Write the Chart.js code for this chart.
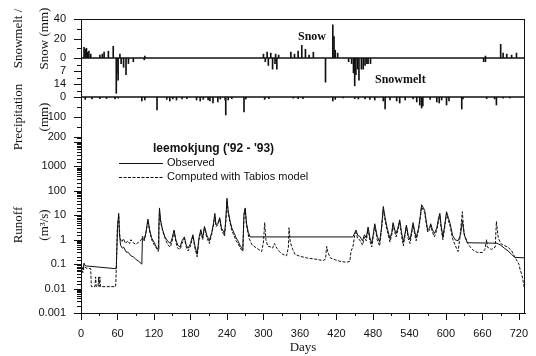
<!DOCTYPE html>
<html>
<head>
<meta charset="utf-8">
<script src="https://cdn.jsdelivr.net/npm/chart.js@4.4.1/dist/chart.umd.min.js"></script>
<style>
  html, body { margin: 0; padding: 0; background: #fff; }
</style>
</head>
<body>
<canvas id="myChart" width="536" height="356"></canvas>
<script>
// snow (up) and snowmelt (down), mm
const snowDay = [5,7,9,11,13,16,31,35,38,45,53,64,105,300,306,312,320,325,345,351,357,363,369,375,382,414,416,418,422,665,690,694,700,708,716];
const snowMm  = [11,9,10,6,7,4,3,4,6,7,12,4,2,4,6,5,4,3,6,4,7,13,9,3,6,34,22,8,5,2,14,5,4,3,5];
const meltDay = [58,59,61,66,70,74,78,86,104,303,308,315,319,322,402,440,445,448,450,452,455,457,461,464,467,470,472,476,662,665];
const meltMm  = [19,8,12,3,5,9,3,2,1,2,4,6,3,6,13,2,3,8,15,9,6,12,6,6,4,3,3,3,2,2];

// precipitation, mm
const precipDay = [7,18,31,42,56,61,100,105,125,141,146,151,157,166,174,190,196,201,209,212,217,225,229,237,238,242,248,268,271,302,309,349,357,365,414,418,431,450,456,467,475,483,497,500,508,519,524,533,546,552,557,560,562,574,585,589,593,601,605,626,628,667,680,683,694,705];
const precipMm  = [12,10,8,8,10,6,20,15,65,12,20,10,15,10,8,15,20,12,15,20,30,25,10,15,90,15,8,75,10,12,8,6,8,8,20,12,5,8,10,10,12,15,20,60,15,20,30,15,10,25,40,55,45,12,25,30,15,40,20,60,10,8,10,40,6,5];

// runoff, m3/s
const obsDay = [0,3,5,7,58,60,62,63,65,68,70,74,78,82,86,90,95,100,101,104,107,110,113,116,120,124,127,128,129,131,134,138,143,147,150,153,156,159,163,166,170,173,176,180,184,187,191,194,197,200,203,207,211,215,218,220,222,225,228,231,236,238,240,242,245,248,252,255,258,262,266,268,270,272,275,278,447,450,452,455,458,463,466,469,472,475,478,481,483,487,491,494,497,500,503,508,511,513,516,518,521,524,527,530,533,535,538,541,544,546,549,551,555,558,560,563,565,568,570,573,575,578,581,585,588,590,592,595,598,601,604,607,611,615,620,624,627,630,635,684,690,696,702,708,713,730];
const obsQ = [0.09,0.06,0.11,0.085,0.065,3,12,2,0.6,0.45,0.5,0.32,0.3,0.22,0.2,0.16,0.13,0.1,1.2,1.0,2,7,2.5,1.2,0.8,0.5,0.4,3,20,6,2.6,1.3,0.85,0.7,1.2,2.5,1,0.6,0.5,0.9,1.3,0.6,0.45,0.7,1.6,0.6,0.25,1.2,2.6,1.2,3.5,1.5,0.9,2,5,12,4,4.5,8,3,1.8,6,50,15,6,3,1.8,1.2,0.9,0.55,0.4,12,20,5,2,1.3,1.3,1.9,2.5,1.5,1.4,0.9,1.6,1.2,3.3,1.2,0.7,2,4.5,1.4,0.8,3,23,8,3.3,1.1,2,5,2.5,1.8,3,6.5,2,0.8,2,4,1.5,1,2.5,5,2,1.2,3,10,27,20,16,5,2.5,3,4.5,2.5,1.8,3,8,12,4,1.3,4,14,8,4.5,1.5,1.0,0.9,1.6,6,1.6,0.75,0.72,0.6,0.45,0.35,0.25,0.19,0.18];
const simDay = [0,3,5,8,16,17,23,24,25,28,29,30,31,32,57,58,60,62,64,67,70,73,77,80,82,86,90,95,99,101,104,107,110,113,117,120,124,127,128,129,131,135,139,143,147,150,153,156,159,163,166,170,173,176,180,184,187,191,194,197,200,203,207,211,215,218,220,222,225,228,231,236,238,240,242,245,248,252,255,258,262,266,268,270,272,276,281,289,297,300,302,304,307,312,315,318,322,326,332,338,341,342,344,348,352,360,371,385,398,402,404,406,410,418,426,437,442,444,447,450,452,455,458,463,466,469,472,475,478,481,483,487,491,494,497,500,503,508,511,513,516,518,521,524,527,530,533,535,538,541,544,546,549,551,555,558,560,563,565,568,570,573,575,578,581,585,588,590,592,595,598,601,604,607,611,615,620,623,627,629,631,636,641,646,652,660,664,667,668,675,681,683,686,690,694,702,708,713,716,720,722,725,727,729];
const simQ = [0.08,0.045,0.08,0.07,0.065,0.012,0.012,0.03,0.012,0.012,0.03,0.012,0.03,0.012,0.012,0.06,4,10,1.2,0.8,1.1,0.7,0.9,0.7,1,0.75,0.65,0.8,1,1.4,0.9,2.2,6,2,0.9,0.65,0.45,0.33,2,15,5,2,1,0.6,0.5,0.9,2.2,0.8,0.45,0.4,0.7,1.1,0.5,0.35,0.55,1.4,0.5,0.2,1,2.2,1,3,1.2,0.7,1.7,4,10,3.5,4,7,2.5,1.4,5,40,12,5,2.4,1.4,0.9,0.7,0.45,0.33,10,18,4,1.2,0.62,0.45,0.33,0.8,5,1,0.55,0.5,0.45,0.7,0.45,0.33,0.25,0.22,0.5,3.1,0.8,0.4,0.25,0.21,0.18,0.16,0.14,0.16,0.53,0.3,0.18,0.15,0.13,0.12,0.13,0.35,0.5,1.5,2,1.1,1,0.6,1.3,0.9,2.8,0.9,0.5,1.6,3.8,1,0.55,2.4,18,6,2.6,0.8,1.6,4,2,1.3,2.4,5.5,1.5,0.55,1.6,3.5,1.1,0.7,2,4,1.5,0.9,2.5,8,22,16,13,4,2,2.5,3.8,2,1.3,2.5,6,10,3,1,3.2,12,6,3.5,1.1,0.6,0.33,1.2,14,3,1.4,0.7,0.47,0.35,0.3,0.3,0.4,1.0,0.5,0.4,0.5,5.6,1.2,0.7,0.6,0.5,0.35,0.2,0.15,0.1,0.06,0.035,0.02,0.01];

// tick labels
const snowTicks = [0, 20, 40];
const meltTicks = [7, 14];
const precipTicks = [0, 100, 200];
const runoffTicks = ['0.001', '0.01', '0.1', '1', '10', '100', '1000'];

const ink = '#111';
const sans = '"Liberation Sans", Arial, sans-serif';
const serif = '"Liberation Serif", "Times New Roman", serif';

function pts(xs, ys) {
    return xs.map((d, i) => ({ x: d, y: ys[i] }));
}
function isDecade(v) {
    const l = Math.log10(v);
    return Math.abs(l - Math.round(l)) < 1e-6;
}
// fixed box sizes so the plot area lands where the original has it
function fitY(scale) {
    scale.width = 81;
    scale.paddingTop = 0;
    scale.paddingBottom = 0;
}
function fitX(scale) {
    scale.height = 43;
    scale.paddingLeft = 0;
    scale.paddingRight = 0;
}

// tick marks, frame lines, legend and notes
const decorPlugin = {
    id: 'decor',
    afterDraw(chart) {
        const ctx = chart.ctx;
        const a = chart.chartArea;
        const s = chart.scales;
        ctx.save();
        ctx.strokeStyle = ink;
        ctx.lineWidth = 1;

        // frame
        ctx.beginPath();
        ctx.moveTo(a.left, a.top + 0.5);
        ctx.lineTo(a.right, a.top + 0.5);
        ctx.moveTo(a.right - 0.5, a.top);
        ctx.lineTo(a.right - 0.5, a.bottom);
        ctx.stroke();
        ctx.lineWidth = 1.3;
        ctx.beginPath();
        const y0 = s.snow.getPixelForValue(0);
        const yp = s.precip.getPixelForValue(0);
        ctx.moveTo(a.left, y0);
        ctx.lineTo(a.right, y0);
        ctx.moveTo(a.left, yp);
        ctx.lineTo(a.right, yp);
        ctx.stroke();

        // y ticks
        ctx.lineWidth = 1;
        ctx.beginPath();
        const yTick = (scale, isMajor) => {
            scale.ticks.forEach(t => {
                const y = Math.round(scale.getPixelForValue(t.value)) + 0.5;
                const len = isMajor(t.value) ? 7 : 4;
                ctx.moveTo(a.left - len, y);
                ctx.lineTo(a.left, y);
            });
        };
        yTick(s.snow, v => v % 20 === 0);
        yTick(s.melt, v => v % 7 === 0);
        yTick(s.precip, v => v % 100 === 0);
        yTick(s.runoff, isDecade);
        // x ticks
        s.x.ticks.forEach(t => {
            if (t.value % 30 !== 0) return;
            const x = Math.round(s.x.getPixelForValue(t.value)) + 0.5;
            const len = t.value % 60 === 0 ? 7 : 3;
            ctx.moveTo(x, a.bottom);
            ctx.lineTo(x, a.bottom + len);
        });
        ctx.stroke();

        // notes
        ctx.fillStyle = ink;
        ctx.textBaseline = 'middle';
        ctx.textAlign = 'left';
        ctx.font = 'bold 12px ' + serif;
        ctx.fillText('Snow', 298, 37);
        ctx.fillText('Snowmelt', 375, 80);

        // legend
        ctx.font = 'bold 12px ' + sans;
        ctx.fillText("leemokjung ('92 - '93)", 153, 149);
        ctx.font = '11px ' + sans;
        const items = chart.data.datasets.filter(d => d.type === 'line');
        items.forEach((d, i) => {
            const y = 163 + i * 14;
            ctx.setLineDash(d.borderDash || []);
            ctx.beginPath();
            ctx.moveTo(119, y + 0.5);
            ctx.lineTo(163, y + 0.5);
            ctx.stroke();
            ctx.setLineDash([]);
            ctx.fillText(d.label, 167, y);
        });
        ctx.restore();
    }
};

const barBase = { type: 'bar', xAxisID: 'x', backgroundColor: ink, barThickness: 1, borderWidth: 0, grouped: false };

const ctx = document.getElementById('myChart');
const myChart = new Chart(ctx, {
    data: {
        datasets: [
            Object.assign({ label: 'Snow', yAxisID: 'snow', data: pts(snowDay, snowMm) }, barBase),
            Object.assign({ label: 'Snowmelt', yAxisID: 'melt', data: pts(meltDay, meltMm) }, barBase),
            Object.assign({ label: 'Precipitation', yAxisID: 'precip', data: pts(precipDay, precipMm) }, barBase),
            {
                type: 'line', label: 'Observed', yAxisID: 'runoff', xAxisID: 'x',
                data: pts(obsDay, obsQ),
                borderColor: ink, borderWidth: 1, pointRadius: 0, tension: 0
            },
            {
                type: 'line', label: 'Computed with Tabios model', yAxisID: 'runoff', xAxisID: 'x',
                data: pts(simDay, simQ),
                borderColor: ink, borderWidth: 1, borderDash: [3, 1.5], pointRadius: 0, tension: 0
            }
        ]
    },
    options: {
        responsive: false,
        animation: false,
        devicePixelRatio: 1,
        layout: { padding: { top: 19, right: 11, left: 0, bottom: 0 } },
        plugins: { legend: { display: false }, tooltip: { enabled: false } },
        scales: {
            x: {
                type: 'linear', position: 'bottom', min: 0, max: 730, offset: false,
                afterFit: fitX,
                grid: { display: false, drawTicks: false, offset: false },
                border: { display: true, color: ink, width: 1 },
                ticks: {
                    stepSize: 30, includeBounds: false, autoSkip: false, maxRotation: 0, padding: 14,
                    color: ink, font: { family: sans, size: 11 },
                    callback: v => (v % 60 === 0 ? String(v) : '')
                },
                title: { display: true, text: 'Days', color: ink, font: { family: serif, size: 13 }, padding: { top: 0, bottom: 1 } }
            },
            runoff: {
                type: 'logarithmic', position: 'left', stack: 'panels', stackWeight: 176,
                min: 0.001, max: 16000,
                afterFit: fitY,
                grid: { display: false, drawTicks: false },
                border: { display: true, color: ink, width: 1 },
                ticks: {
                    autoSkip: false, includeBounds: false, padding: 15, color: ink, font: { family: sans, size: 11 },
                    callback: v => {
                        const hit = runoffTicks.find(t => Math.abs(Number(t) - v) < Number(t) * 1e-6);
                        return hit || '';
                    }
                },
                title: { display: true, text: ['Runoff', '(m\u00B3/s)'], color: ink, font: { family: serif, size: 13, lineHeight: 2 }, padding: { top: 6, bottom: 0 } }
            },
            precip: {
                type: 'linear', position: 'left', stack: 'panels', stackWeight: 40,
                min: 0, max: 200, reverse: true,
                afterFit: fitY,
                grid: { display: false, drawTicks: false },
                border: { display: true, color: ink, width: 1 },
                ticks: {
                    stepSize: 50, autoSkip: false, padding: 15, color: ink, font: { family: sans, size: 11 },
                    callback: v => (precipTicks.includes(v) ? String(v) : '')
                },
                title: { display: true, text: ['Precipitation', '(mm)'], color: ink, font: { family: serif, size: 13, lineHeight: 2 }, padding: { top: 6, bottom: 0 } }
            },
            melt: {
                type: 'linear', position: 'left', stack: 'panels', stackWeight: 39,
                min: 0, max: 21, reverse: true,
                afterFit: fitY,
                grid: { display: false, drawTicks: false },
                border: { display: true, color: ink, width: 1 },
                ticks: {
                    stepSize: 3.5, autoSkip: false, padding: 15, color: ink, font: { family: sans, size: 11 },
                    callback: v => (meltTicks.includes(v) ? String(v) : '')
                }
            },
            snow: {
                type: 'linear', position: 'left', stack: 'panels', stackWeight: 39,
                min: 0, max: 40,
                afterFit: fitY,
                grid: { display: false, drawTicks: false },
                border: { display: true, color: ink, width: 1 },
                ticks: {
                    stepSize: 10, autoSkip: false, padding: 15, color: ink, font: { family: sans, size: 11 },
                    callback: v => (snowTicks.includes(v) ? String(v) : '')
                },
                title: { display: true, text: ['Snowmelt /', 'Snow (mm)'], color: ink, font: { family: serif, size: 13, lineHeight: 2 }, padding: { top: 6, bottom: 0 } }
            }
        }
    },
    plugins: [decorPlugin]
});
</script>
</body>
</html>
